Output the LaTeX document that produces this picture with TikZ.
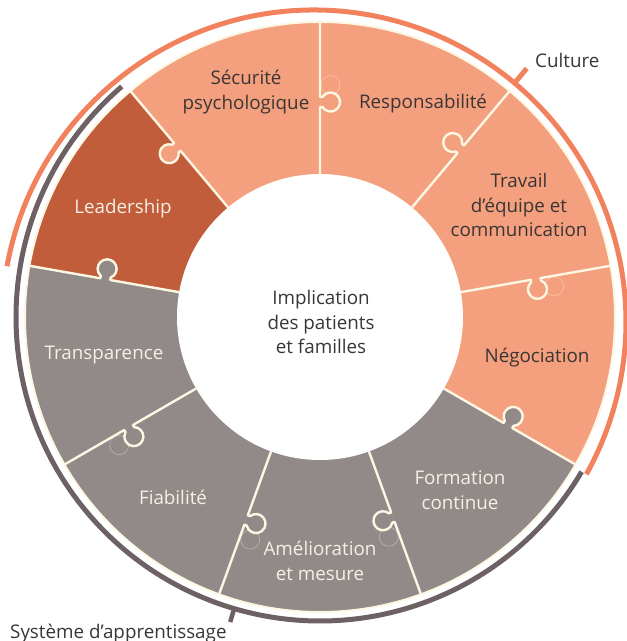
\documentclass[tikz,border=0pt]{standalone}
\usepackage{fontspec}
\setmainfont{Open Sans}
\usetikzlibrary{calc}

\definecolor{salmon}{HTML}{F4A07E}
\definecolor{rust}{HTML}{C15D3B}
\definecolor{stone}{HTML}{918A89}
\definecolor{cream}{HTML}{FCF7E3}
\definecolor{culturec}{HTML}{F2825D}
\definecolor{learnc}{HTML}{6D6164}
\definecolor{ink}{HTML}{3A3636}
\definecolor{paletext}{HTML}{F5EFE4}

% one ring sector between two angles
\newcommand\ringsector[3]{%
  \fill[#3] (O) -- ++(#1:295) arc[start angle=#1, end angle=#2, radius=295] -- cycle;}

% divider with a puzzle tab: angle, side (+1/-1), tab position, tab colour, faint offset outline (1/0)
\newcommand\puzzlejoint[5]{%
  \begin{scope}[shift={(O)}, rotate=#1, yscale=#2]
    \ifnum#5=1 \draw[ghostline] (#3+17,10.5) circle[radius=9.5];\fi
    \fill[#4] (#3-5,0) -- (#3-5,2.42) arc[start angle=238.25, end angle=-58.25, radius=9.5] -- (#3+5,0) -- cycle;
    \draw[divider] (143,0) -- (#3-5,0) -- (#3-5,2.42)
      arc[start angle=238.25, end angle=-58.25, radius=9.5] -- (#3+5,0) -- (295,0);
  \end{scope}}

\begin{document}
\begin{tikzpicture}[x=1pt, y=1pt,
  label/.style={font=\fontsize{18.8}{24.8}\selectfont, align=center, inner sep=0pt},
  darktext/.style={label, text=ink},
  lighttext/.style={label, text=paletext},
  divider/.style={draw=cream, line width=2.4pt, line join=round},
  ghostline/.style={draw=cream, draw opacity=0.4, line width=0.6pt},
  culturearc/.style={draw=culturec, line width=5pt},
  learnarc/.style={draw=learnc, line width=5pt}]

\useasboundingbox (0,0) rectangle (627,-641);
\coordinate (O) at (320,-317);
\coordinate (Oc) at (314,-322);

% the nine pieces
\ringsector{50}{90}{salmon}
\ringsector{10}{50}{salmon}
\ringsector{-30}{10}{salmon}
\ringsector{-70}{-30}{stone}
\ringsector{-110}{-70}{stone}
\ringsector{-150}{-110}{stone}
\ringsector{170}{210}{stone}
\ringsector{130}{170}{rust}
\ringsector{90}{130}{salmon}

% joints between the pieces
\puzzlejoint{90}{-1}{215}{salmon}{1}
\puzzlejoint{50}{1}{219}{salmon}{0}
\puzzlejoint{10}{-1}{219}{salmon}{1}
\puzzlejoint{-30}{1}{217}{stone}{0}
\puzzlejoint{-70}{-1}{213}{stone}{1}
\puzzlejoint{-110}{1}{216}{stone}{1}
\puzzlejoint{-150}{1}{221}{stone}{1}
\puzzlejoint{170}{-1}{218}{stone}{0}
\puzzlejoint{130}{1}{222}{salmon}{0}

% rims of the ring
\draw[cream, line width=2pt] (O) circle[radius=295];
\fill[white] (O) circle[radius=143];

% outer arcs with their ticks
\draw[learnarc] ($(O)+(130.7:304)$) arc[start angle=130.7, end angle=329.4, radius=304];
\draw[culturearc] ($(Oc)+(169.7:312)$) arc[start angle=169.7, end angle=-29.2, radius=312];
\coordinate (cultureA) at ($(Oc)+(50:311)$);
\coordinate (cultureB) at ($(Oc)+(50:331)$);
\coordinate (learnA) at ($(O)+(253.6:303)$);
\coordinate (learnB) at ($(O)+(253.6:318)$);
\draw[culturearc] (cultureA) -- (cultureB);
\draw[learnarc, line width=4.5pt] (learnA) -- (learnB);

% labels
\node[darktext] (hub) at (321,-322) {Implication\\des patients\\et familles};
\node[darktext] (securite) at (246,-92) {Sécurité\\psychologique};
\node[darktext, anchor=base] (resp) at (423,-108) {Responsabilité};
\node[darktext] (travail) at (519,-205) {Travail\\d’équipe et\\communication};
\node[darktext, anchor=base] (nego) at (537,-362) {Négociation};
\node[lighttext] (formation) at (460,-490) {Formation\\continue};
\node[lighttext] (amelio) at (320,-561) {Amélioration\\et mesure};
\node[lighttext, anchor=base] (fiab) at (173,-504) {Fiabilité};
\node[lighttext, anchor=base] (transp) at (104,-359) {Transparence};
\node[lighttext, anchor=base] (lead) at (123,-213) {Leadership};
\node[darktext, anchor=base west] (culture) at (535,-67) {Culture};
\node[darktext, anchor=base west] (systeme) at (10,-638) {Système d’apprentissage};
\end{tikzpicture}
\end{document}
